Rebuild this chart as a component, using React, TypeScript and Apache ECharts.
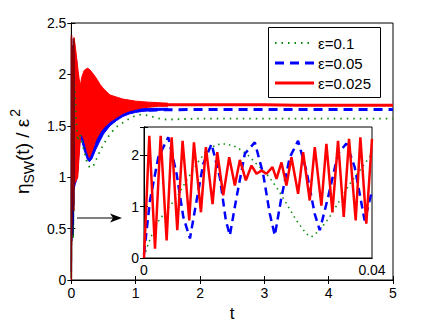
import { useEffect, useRef } from 'react';
import * as echarts from 'echarts';

// ---------- inset data (0 <= t <= 0.04) ----------
const redInsetT = [0, 0.00093, 0.00193, 0.00292, 0.00397, 0.00485, 0.00584, 0.00677, 0.00794, 0.00876, 0.00999, 0.01086, 0.01203, 0.01285, 0.0139, 0.01495, 0.01594, 0.01682, 0.01787, 0.01886, 0.01974, 0.02061, 0.02149, 0.02254, 0.02324, 0.02412, 0.02499, 0.02587, 0.02704, 0.02791, 0.02908, 0.02996, 0.03112, 0.032, 0.03305, 0.03404, 0.03504, 0.03597, 0.03714, 0.03796, 0.039, 0.04];
const redInsetV = [0, 2.38, 0.18, 2.38, 0.34, 2.35, 0.54, 2.28, 0.73, 2.25, 0.89, 2.16, 1.05, 2.06, 1.22, 1.96, 1.41, 1.91, 1.51, 1.8, 1.64, 1.7, 1.64, 1.77, 1.54, 1.86, 1.41, 1.96, 1.25, 2.06, 1.12, 2.16, 1.02, 2.22, 0.89, 2.28, 0.8, 2.32, 0.73, 2.35, 0.67, 2.32];

const blueInsetT = [0, 0.00105, 0.00251, 0.00426, 0.00572, 0.00689, 0.00806, 0.00923, 0.01039, 0.01185, 0.01331, 0.01436, 0.01506, 0.01623, 0.01769, 0.01944, 0.0209, 0.02207, 0.02295, 0.02411, 0.02557, 0.02703, 0.02849, 0.02995, 0.03083, 0.03229, 0.03404, 0.0355, 0.03696, 0.03871, 0.04];
const blueInsetV = [0.08, 1.12, 1.96, 2.35, 1.64, 0.8, 0.38, 1.12, 1.83, 2.22, 1.57, 0.73, 0.44, 1.18, 2.03, 2.25, 1.64, 0.86, 0.44, 1.18, 1.96, 2.28, 1.7, 0.86, 0.54, 1.18, 2.03, 2.23, 1.77, 0.73, 1.31];

const greenInsetT = [0, 0.00076, 0.00222, 0.00397, 0.00572, 0.00747, 0.00923, 0.01098, 0.01273, 0.01448, 0.01623, 0.01798, 0.01974, 0.02149, 0.02324, 0.02499, 0.02674, 0.02849, 0.02937, 0.03083, 0.03258, 0.03433, 0.03609, 0.03784, 0.04];
const greenInsetV = [0.02, 0.28, 0.67, 0.93, 1.18, 1.51, 1.83, 2.09, 2.21, 2.22, 2.16, 2.03, 1.83, 1.64, 1.38, 1.06, 0.73, 0.47, 0.41, 0.54, 0.8, 1.12, 1.44, 1.7, 2.03];

// ---------- main plot: envelopes of the fast oscillation ----------
const bandT = [0.04, 0.06, 0.08, 0.1, 0.12, 0.14, 0.16, 0.2, 0.25, 0.28, 0.32, 0.38, 0.45, 0.5, 0.6, 0.7, 0.8, 0.9, 1.0, 1.1, 1.2, 1.35, 1.5];
const redUpper = [2.36, 2.28, 2.17, 2.06, 1.96, 1.89, 1.97, 2.04, 2.06, 2.05, 2.02, 1.97, 1.9, 1.86, 1.8, 1.78, 1.76, 1.75, 1.74, 1.735, 1.73, 1.725, 1.72];
const redLower = [0.92, 0.95, 0.97, 1.0, 1.2, 1.38, 1.43, 1.36, 1.24, 1.19, 1.25, 1.36, 1.44, 1.48, 1.54, 1.58, 1.62, 1.645, 1.66, 1.675, 1.68, 1.69, 1.69];
const blueUpper = [2.3, 2.2, 2.15, 2.0, 1.88, 1.85, 1.8, 1.7, 1.6, 1.55, 1.5, 1.48, 1.5, 1.52, 1.57, 1.6, 1.63, 1.65, 1.665, 1.67, 1.67, 1.67, 1.67];
const blueLower = [0.88, 0.93, 0.97, 1.05, 1.25, 1.38, 1.36, 1.26, 1.17, 1.15, 1.18, 1.27, 1.36, 1.42, 1.5, 1.55, 1.59, 1.615, 1.63, 1.64, 1.645, 1.65, 1.655];

const redLateT = [1.2, 1.5, 2, 2.5, 3, 3.5, 4, 4.5, 5];
const redLateV = [1.705, 1.705, 1.705, 1.705, 1.705, 1.7, 1.7, 1.7, 1.7];
const blueLateT = [1.2, 1.5, 2, 2.5, 3, 3.5, 4, 4.5, 5];
const blueLateV = [1.652, 1.657, 1.658, 1.658, 1.658, 1.658, 1.658, 1.658, 1.658];
const greenT = [0.05, 0.08, 0.1, 0.12, 0.14, 0.17, 0.2, 0.24, 0.28, 0.31, 0.35, 0.4, 0.45, 0.5, 0.6, 0.7, 0.8, 0.9, 1.0, 1.1, 1.2, 1.3, 1.4, 1.5, 1.7, 2, 2.5, 3, 3.5, 4, 4.5, 5];
const greenV = [1.9, 1.5, 1.35, 1.42, 1.4, 1.33, 1.25, 1.15, 1.1, 1.09, 1.12, 1.19, 1.26, 1.32, 1.42, 1.49, 1.53, 1.57, 1.6, 1.61, 1.6, 1.58, 1.565, 1.56, 1.565, 1.57, 1.57, 1.57, 1.57, 1.57, 1.57, 1.57];

const legendLabels = ['ε=0.1', 'ε=0.05', 'ε=0.025'];

const RED = '#ff0000';
const BLUE = '#0000ff';
const GREEN = '#0a8a0a';
const FONT = 'Liberation Sans';

const zip = (t: number[], v: number[]) => t.map((x, i) => [x, v[i]]);

function band(lower: number[], upper: number[], color: string) {
  return {
    type: 'custom',
    xAxisIndex: 0,
    yAxisIndex: 0,
    clip: true,
    silent: true,
    data: [[bandT[0], lower[0]]],
    renderItem: (_p: any, api: any) => {
      const pts: number[][] = [];
      for (let i = 0; i < bandT.length; i++) pts.push(api.coord([bandT[i], upper[i]]));
      for (let i = bandT.length - 1; i >= 0; i--) pts.push(api.coord([bandT[i], lower[i]]));
      return { type: 'polygon', shape: { points: pts }, style: { fill: color, stroke: color, lineWidth: 1 } };
    },
  };
}

function line(data: number[][], color: string, width: number, dash: any, xi: number, yi: number) {
  return {
    type: 'line',
    xAxisIndex: xi,
    yAxisIndex: yi,
    data,
    symbol: 'none',
    showSymbol: false,
    clip: true,
    silent: true,
    lineStyle: { color, width, type: dash },
  };
}

const axisBase = {
  axisLine: { show: true, lineStyle: { color: '#000', width: 1 } },
  axisTick: { show: true, inside: true, length: 4, lineStyle: { color: '#000' } },
  splitLine: { show: false },
};

export default function App() {
  const ref = useRef<HTMLDivElement>(null);
  useEffect(() => {
    if (!ref.current) return;
    const chart = echarts.init(ref.current, undefined, { renderer: 'svg' });
    const labelStyle = { color: '#000', fontSize: 14, fontFamily: FONT };
    const option: any = {
      animation: false,
      textStyle: { fontFamily: FONT },
      grid: [
        { left: 67, top: 23, width: 326, height: 258, show: true, borderColor: '#000', borderWidth: 1, backgroundColor: 'transparent' },
        { left: 144, top: 127, width: 228, height: 131, show: true, borderColor: '#000', borderWidth: 1, backgroundColor: '#fff', z: 3 },
      ],
      xAxis: [
        {
          ...axisBase, type: 'value', gridIndex: 0, position: 'bottom', min: 0, max: 5, interval: 1,
          axisLabel: { ...labelStyle, margin: 6 },
          name: 't', nameLocation: 'middle', nameGap: 25,
          nameTextStyle: { color: '#000', fontSize: 17, fontFamily: FONT },
        },
        { ...axisBase, type: 'value', gridIndex: 0, position: 'top', min: 0, max: 5, interval: 1, axisLabel: { show: false } },
        {
          ...axisBase, type: 'value', gridIndex: 1, position: 'bottom', min: 0, max: 0.04, interval: 0.04, z: 4,
          axisTick: { show: false },
          axisLabel: { ...labelStyle, margin: 5 },
        },
        { ...axisBase, type: 'value', gridIndex: 1, position: 'top', min: 0, max: 0.04, interval: 0.04, z: 4, axisTick: { show: false }, axisLabel: { show: false } },
      ],
      yAxis: [
        {
          ...axisBase, type: 'value', gridIndex: 0, position: 'left', min: 0, max: 2.5, interval: 0.5,
          axisLabel: { ...labelStyle, margin: 5 },
          name: '{a|η}{b|SW}{a|(t) / ε}{c|2}', nameLocation: 'middle', nameGap: 32, nameRotate: 90,
          nameTextStyle: {
            color: '#000', fontFamily: FONT,
            rich: {
              a: { fontSize: 19, lineHeight: 28, fontFamily: FONT, color: '#000' },
              b: { fontSize: 14, lineHeight: 15, verticalAlign: 'bottom', fontFamily: FONT, color: '#000' },
              c: { fontSize: 14, lineHeight: 15, verticalAlign: 'top', fontFamily: FONT, color: '#000', padding: [0, 0, 0, 2] },
            },
          },
        },
        { ...axisBase, type: 'value', gridIndex: 0, position: 'right', min: 0, max: 2.5, interval: 0.5, axisLabel: { show: false } },
        {
          ...axisBase, type: 'value', gridIndex: 1, position: 'left', min: 0, max: 2.55, interval: 1, z: 4,
          axisLabel: { ...labelStyle, margin: 5, formatter: (v: number) => (Math.abs(v - Math.round(v)) < 1e-9 ? String(v) : '') },
        },
        { ...axisBase, type: 'value', gridIndex: 1, position: 'right', min: 0, max: 2.55, interval: 1, z: 4, axisLabel: { show: false } },
      ],
      series: [
        // main plot
        line(zip(greenInsetT, greenInsetV), GREEN, 1.5, 'solid', 0, 0),
        line(zip(greenT, greenV), GREEN, 1.8, [1.5, 5], 0, 0),
        line(zip(blueInsetT, blueInsetV), '#00008b', 1.5, 'solid', 0, 0),
        band(blueLower, blueUpper, BLUE),
        line(zip(blueLateT, blueLateV), BLUE, 3, [9, 6], 0, 0),
        line(zip(redInsetT, redInsetV), '#8b0000', 1.5, 'solid', 0, 0),
        band(redLower, redUpper, RED),
        line(zip(redLateT, redLateV), RED, 3, 'solid', 0, 0),
        // inset
        { ...line(zip(greenInsetT, greenInsetV), GREEN, 1.5, [1.5, 4], 2, 2), z: 5 },
        { ...line(zip(blueInsetT, blueInsetV), BLUE, 2.5, [8, 5], 2, 2), z: 5 },
        { ...line(zip(redInsetT, redInsetV), RED, 2.5, 'solid', 2, 2), z: 5 },
      ],
      graphic: [
        { type: 'line', z: 100, shape: { x1: 77, y1: 218, x2: 116, y2: 218 }, style: { stroke: '#000', lineWidth: 1 } },
        { type: 'polygon', z: 100, shape: { points: [[122, 218], [110, 213.5], [113, 218], [110, 222.5]] }, style: { fill: '#000' } },
        { type: 'rect', z: 100, shape: { x: 268.5, y: 27.5, width: 112, height: 70 }, style: { fill: '#fff', stroke: '#000', lineWidth: 1 } },
        { type: 'line', z: 101, shape: { x1: 275, y1: 43, x2: 314, y2: 43 }, style: { stroke: GREEN, lineWidth: 1.8, lineDash: [1.5, 5] } },
        { type: 'line', z: 101, shape: { x1: 275, y1: 63, x2: 314, y2: 63 }, style: { stroke: BLUE, lineWidth: 3, lineDash: [9, 6] } },
        { type: 'line', z: 101, shape: { x1: 275, y1: 83, x2: 314, y2: 83 }, style: { stroke: RED, lineWidth: 3 } },
        ...legendLabels.map((txt, i) => ({
          type: 'text', z: 101, x: 318, y: 43 + i * 20,
          style: { text: txt, fill: '#000', fontSize: 15, fontFamily: FONT, align: 'left', verticalAlign: 'middle' },
        })),
      ],
    };
    chart.setOption(option);
    return () => chart.dispose();
  }, []);
  return <div ref={ref} style={{ position: 'fixed', left: 0, top: 0, width: 436, height: 327, background: '#fff' }} />;
}
